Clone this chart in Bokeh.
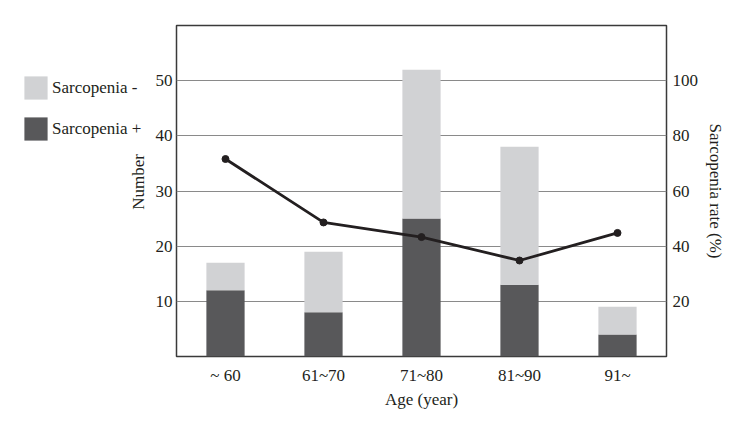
from bokeh.plotting import figure
from bokeh.models import (Range1d, LinearAxis, FixedTicker, Legend, LegendItem,
                          ColumnDataSource, Label)
from bokeh.layouts import row
from bokeh.embed import file_html
from bokeh.resources import INLINE

ages = ["~ 60", "61~70", "71~80", "81~90", "91~"]
sarc_plus = [12, 8, 25, 13, 4]
sarc_minus = [5, 11, 27, 25, 5]
rate = [71.6, 48.6, 43.3, 34.8, 44.8]
left_ticks = [10, 20, 30, 40, 50]
right_ticks = [20, 40, 60, 80, 100]
series_labels = ["Sarcopenia -", "Sarcopenia +"]

DARK = "#58585a"
LIGHT = "#d1d2d4"
FONT = "Liberation Serif"
TXT = "#231f20"
FS = "17px"
H = 415

src = ColumnDataSource(dict(age=ages, plus=sarc_plus, minus=sarc_minus, rate=rate))

# ---- main chart ----
p = figure(x_range=ages, y_range=Range1d(0, 60), width=600, height=H,
           output_backend="svg", toolbar_location=None,
           min_border_left=26, min_border_top=25, min_border_right=84, min_border_bottom=59)
p.extra_y_ranges = {"rate": Range1d(0, 120)}

rs = p.vbar_stack(["plus", "minus"], x="age", width=0.39, color=[DARK, LIGHT],
                  line_color=None, source=src)
p.line("age", "rate", source=src, y_range_name="rate", line_color=TXT, line_width=2.8)
p.scatter("age", "rate", source=src, y_range_name="rate", size=7, color=TXT)

p.outline_line_color = "#3a3a3a"
p.outline_line_width = 1.5
p.xgrid.grid_line_color = None
p.ygrid.grid_line_color = "#8a8a8a"
p.ygrid.grid_line_width = 1.2
p.ygrid.ticker = FixedTicker(ticks=left_ticks)

p.yaxis.ticker = FixedTicker(ticks=left_ticks)

right = LinearAxis(y_range_name="rate", ticker=FixedTicker(ticks=right_ticks),
                   axis_label="Sarcopenia rate (%)")
p.add_layout(right, "right")

p.xaxis.axis_label = "Age (year)"

for ax in [p.xaxis[0], p.yaxis[0], right]:
    ax.axis_line_color = None
    ax.major_tick_line_color = None
    ax.minor_tick_line_color = None
    ax.major_tick_out = 0
    ax.major_tick_in = 0
    ax.minor_tick_out = 0
    ax.major_label_text_font = FONT
    ax.major_label_text_font_size = FS
    ax.major_label_text_color = TXT
    ax.axis_label_text_font = FONT
    ax.axis_label_text_font_size = FS
    ax.axis_label_text_font_style = "normal"
    ax.axis_label_text_color = TXT

p.yaxis[0].major_label_standoff = 4
right.major_label_standoff = 6
right.axis_label_standoff = 5
p.xaxis[0].major_label_standoff = 9
p.xaxis[0].axis_label_standoff = 2

# ---- legend panel (left of chart) ----
lf = figure(width=150, height=H, x_range=Range1d(0, 1), y_range=Range1d(0, 1),
            output_backend="svg", toolbar_location=None,
            x_axis_location=None, y_axis_location=None,
            min_border=0, outline_line_color=None)
lf.grid.visible = False
# hidden swatch renderers (data outside the visible range) used only by the legend
dummy = dict(x=[5], top=[5])
r_minus = lf.vbar(x="x", top="top", width=0.1, source=ColumnDataSource(dummy),
                  fill_color=LIGHT, line_color=None)
r_plus = lf.vbar(x="x", top="top", width=0.1, source=ColumnDataSource(dummy),
                 fill_color=DARK, line_color=None)
legend = Legend(items=[LegendItem(label=series_labels[0], renderers=[r_minus]),
                       LegendItem(label=series_labels[1], renderers=[r_plus])],
                location=(21, 213), padding=0, margin=0, spacing=12,
                glyph_width=29, glyph_height=29, label_standoff=2,
                background_fill_alpha=0, border_line_color=None,
                label_text_font=FONT, label_text_font_size=FS, label_text_color=TXT)
lf.add_layout(legend, "center")
lf.add_layout(Label(x=138, y=174.5, x_units="screen", y_units="screen",
                    text="Number", angle=90, angle_units="deg",
                    text_align="center", text_baseline="middle",
                    text_font=FONT, text_font_size=FS, text_color=TXT))

layout = row(lf, p, spacing=0)
open("out.html", "w").write(file_html(layout, INLINE))
